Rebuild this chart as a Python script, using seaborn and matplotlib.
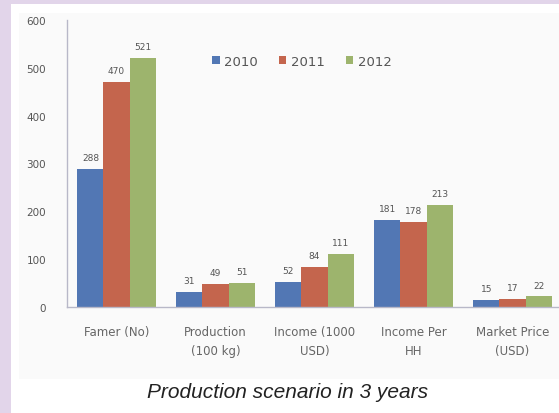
import matplotlib
matplotlib.use("Agg")
import matplotlib.pyplot as plt
import matplotlib.patches as mpatches
import seaborn as sns
import pandas as pd

categories = ["Famer (No)", "Production\n(100 kg)", "Income (1000\nUSD)", "Income Per\nHH", "Market Price\n(USD)"]
years = ["2010", "2011", "2012"]
values_2010 = [288, 31, 52, 181, 15]
values_2011 = [470, 49, 84, 178, 17]
values_2012 = [521, 51, 111, 213, 22]
colors = ["#5277b4", "#c4654d", "#9db46d"]
yticks = [0, 100, 200, 300, 400, 500, 600]

rows = []
for y, vals in zip(years, [values_2010, values_2011, values_2012]):
    for c, v in zip(categories, vals):
        rows.append({"cat": c, "year": y, "val": v})
df = pd.DataFrame(rows)

sns.set_theme(style="white")
plt.rcParams['font.family'] = ['DejaVu Sans']

fig = plt.figure(figsize=(5.59, 4.14), dpi=100)
fig.patch.set_facecolor("#e2d5ea")
# white panel
fig.add_artist(mpatches.Rectangle((11/559, 0), 1, 1 - 5/414, transform=fig.transFigure,
                                  facecolor="white", edgecolor="none", zorder=-2))
fig.add_artist(mpatches.Rectangle((19/559, 1 - 380/414), 1, (380 - 14)/414, transform=fig.transFigure,
                                  facecolor="#fafafa", edgecolor="none", zorder=-1))

ax = fig.add_axes([67/559, 1 - 308/414, 495/559, (308 - 21)/414])
ax.set_facecolor("none")
sns.barplot(data=df, x="cat", y="val", hue="year", palette=colors, width=0.79, gap=0,
            ax=ax, legend=False, saturation=1, linewidth=0)

for cont in ax.containers:
    ax.bar_label(cont, fmt="%d", padding=5, fontsize=6.5, color="#555555")

ax.set_xlim(-0.5, 4.5)
ax.set_ylim(0, 600)
ax.set_yticks(yticks)
ax.set_yticklabels([str(t) for t in yticks], fontsize=7.5, color="#555555")
ax.tick_params(axis="y", length=0, pad=15)
ax.tick_params(axis="x", length=0, pad=13)
ax.set_xticks(range(len(categories)))
ax.set_xticklabels(categories, fontsize=8.5, color="#666666", linespacing=1.55)
ax.set_xlabel("")
ax.set_ylabel("")
for s in ["top", "right"]:
    ax.spines[s].set_visible(False)
for s in ["left", "bottom"]:
    ax.spines[s].set_color("#b8b8c8")
    ax.spines[s].set_linewidth(1.0)

handles = [mpatches.Patch(facecolor=c, edgecolor="none") for c in colors]
leg = fig.legend(handles, years, loc="center", bbox_to_anchor=(302/559, 1 - 62/414), ncol=3,
                 frameon=False, fontsize=9.5, handlelength=0.55, handleheight=0.55,
                 handletextpad=0.35, columnspacing=1.6)
for t in leg.get_texts():
    t.set_color("#555555")

fig.text(287.5/559, 1 - 393/414, "Production scenario in 3 years", ha="center", va="center",
         fontsize=15, style="italic", color="#222222", family=["Liberation Sans", "DejaVu Sans"])

fig.savefig("out.png", dpi=100, facecolor=fig.get_facecolor())
